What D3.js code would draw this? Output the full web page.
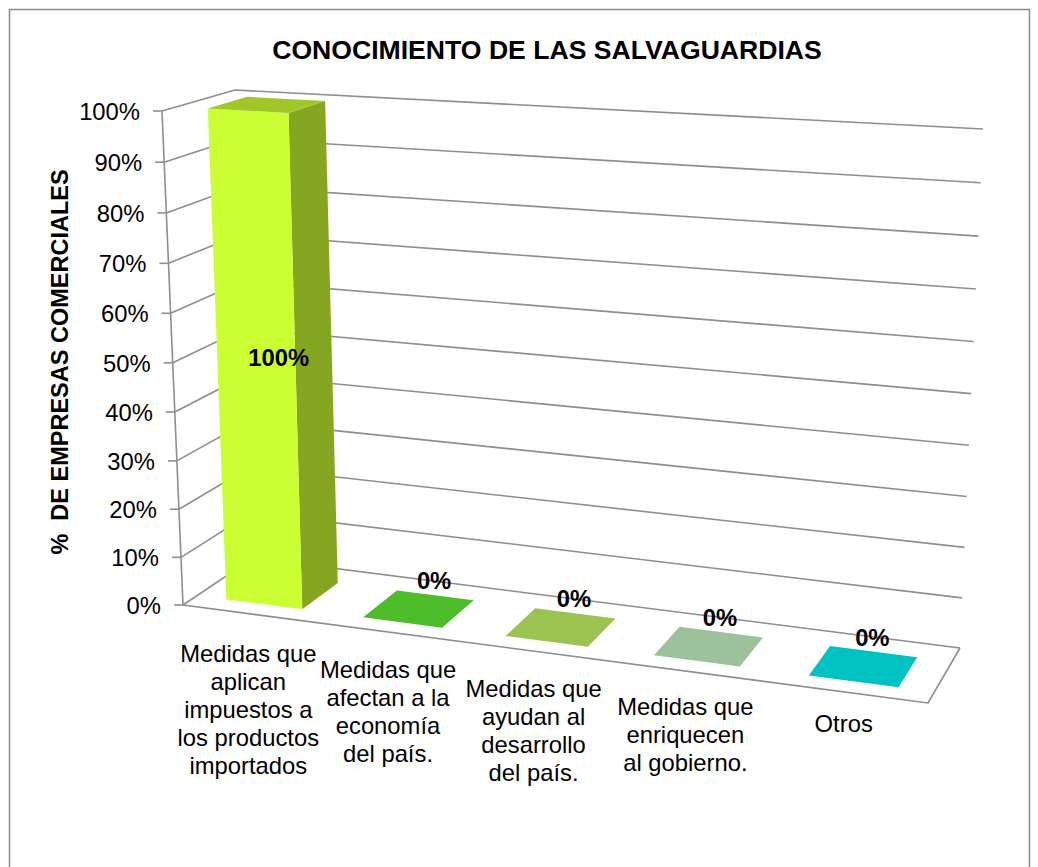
<!DOCTYPE html>
<html><head><meta charset="utf-8">
<script src="https://cdn.jsdelivr.net/npm/d3@7"></script>
<style>
body{margin:0;background:#fff}
svg{display:block}
text{font-family:"Liberation Sans",Arial,Helvetica,sans-serif;fill:#000}
</style>
</head><body>
<svg id="c" width="1038" height="867"></svg>
<script>
// ---- data ----
const chartTitle = "CONOCIMIENTO DE LAS SALVAGUARDIAS";
const yAxisTitle = "%  DE EMPRESAS COMERCIALES";
const categories = [
  "Medidas que\naplican\nimpuestos a\nlos productos\nimportados",
  "Medidas que\nafectan a la\neconomía\ndel país.",
  "Medidas que\nayudan al\ndesarrollo\ndel país.",
  "Medidas que\nenriquecen\nal gobierno.",
  "Otros"
];
const values = [1.00, 0.00, 0.00, 0.00, 0.00];
const valueLabels = ["100%", "0%", "0%", "0%", "0%"];
const yTickValues = [0, 0.1, 0.2, 0.3, 0.4, 0.5, 0.6, 0.7, 0.8, 0.9, 1.0];
const yTickLabels = ["0%", "10%", "20%", "30%", "40%", "50%", "60%", "70%", "80%", "90%", "100%"];
const barColors = ["#CCFF33", "#4DBE2A", "#9CC251", "#9DC29B", "#00C2C2"];

// ---- 3D box projection (corners of the plot cube on screen) ----
const C = {
  flb: [183, 605], flt: [162, 111], frb: [928, 703], frt: [955, 155],
  blb: [253, 558], blt: [235, 90],  brb: [960, 648], brt: [983, 129]
};
const warp = (t, k) => t / (t + k * (1 - t));
const lerp = (p, q, t) => [p[0] + (q[0] - p[0]) * t, p[1] + (q[1] - p[1]) * t];
function proj(u, v, w) {
  const a = warp(u, 1.11), b = warp(v, 1.04);
  const fb = lerp(C.flb, C.frb, a), ft = lerp(C.flt, C.frt, a);
  const bb = lerp(C.blb, C.brb, a), bt = lerp(C.blt, C.brt, a);
  return lerp(lerp(fb, ft, b), lerp(bb, bt, b), w);
}

const x = d3.scaleBand().domain(categories).range([0, 1]).paddingInner(0.44).paddingOuter(0.22);
const y = d3.scaleLinear().domain([0, 1]).range([0, 1]);
const W0 = 0.2, W1 = 0.75;

const svg = d3.select("#c");
const line = d3.line();
const gridColor = "#8E8E8E";
const fs = "23.8px";

// chart border
svg.append("rect").attr("x", 9.5).attr("y", 9.5).attr("width", 1020).attr("height", 880)
  .attr("fill", "none").attr("stroke", "#8A8A8A").attr("stroke-width", 1.5);

// title
svg.append("text").attr("x", 547).attr("y", 59).attr("text-anchor", "middle")
  .style("font-size", "26.6px").style("font-weight", "bold").text(chartTitle);

// y axis title
svg.append("text").attr("transform", "translate(68,362) rotate(-90)").attr("text-anchor", "middle")
  .style("font-size", "23.5px").style("font-weight", "bold").style("white-space", "pre").text(yAxisTitle);

const g = svg.append("g");

// walls gridlines
yTickValues.forEach(t => {
  const v = y(t);
  g.append("path").attr("d", line([proj(0, v, 0), proj(0, v, 1), proj(1, v, 1)]))
    .attr("fill", "none").attr("stroke", gridColor).attr("stroke-width", 1.6);
});
// floor outline
g.append("path").attr("d", line([proj(0, 0, 0), proj(1, 0, 0), proj(1, 0, 1)]))
  .attr("fill", "none").attr("stroke", gridColor).attr("stroke-width", 1.6);
// vertical axis line
g.append("path").attr("d", line([proj(0, 0, 0), proj(0, 1, 0)]))
  .attr("fill", "none").attr("stroke", gridColor).attr("stroke-width", 1.6);

// ticks + labels
yTickValues.forEach((t, i) => {
  const p = proj(0, y(t), 0);
  g.append("line").attr("x1", p[0] - 9).attr("x2", p[0]).attr("y1", p[1]).attr("y2", p[1])
    .attr("stroke", gridColor).attr("stroke-width", 1.6);
  g.append("text").attr("x", p[0] - 22).attr("y", p[1] + 9).attr("text-anchor", "end")
    .style("font-size", fs).text(yTickLabels[i]);
});

// bars
categories.forEach((cat, i) => {
  const u0 = x(cat), u1 = x(cat) + x.bandwidth(), h = y(values[i]);
  const col = d3.color(barColors[i]);
  const bar = g.append("g");
  if (h > 0) {
    bar.append("path").attr("d", line([proj(u1, 0, W0), proj(u1, 0, W1), proj(u1, h, W1), proj(u1, h, W0)]) + "Z")
      .attr("fill", col.darker(1.2).formatHex());
    bar.append("path").attr("d", line([proj(u0, 0, W0), proj(u1, 0, W0), proj(u1, h, W0), proj(u0, h, W0)]) + "Z")
      .attr("fill", col.formatHex());
    bar.append("path").attr("d", line([proj(u0, h, W0), proj(u1, h, W0), proj(u1, h, W1), proj(u0, h, W1)]) + "Z")
      .attr("fill", col.darker(0.7).formatHex());
  } else {
    bar.append("path").attr("d", line([proj(u0, 0, W0), proj(u1, 0, W0), proj(u1, 0, W1), proj(u0, 0, W1)]) + "Z")
      .attr("fill", col.formatHex());
  }
});

// value labels
categories.forEach((cat, i) => {
  const uc = x(cat) + x.bandwidth() / 2, h = y(values[i]);
  let p;
  if (h > 0) { p = proj(uc, h / 2, (W0 + W1) / 2); p = [p[0] + 4, p[1] + 13]; }
  else { p = proj(uc, 0, W1); p = [p[0] - 1, p[1] - 6]; }
  g.append("text").attr("x", p[0]).attr("y", p[1]).attr("text-anchor", "middle")
    .style("font-size", fs).style("font-weight", "bold").text(valueLabels[i]);
});

// category labels
categories.forEach((cat, i) => {
  const uc = x(cat) + x.bandwidth() / 2;
  const p = proj(uc, 0, 0);
  const lines = cat.split("\n");
  const t = g.append("text").attr("text-anchor", "middle").style("font-size", fs);
  lines.forEach((ln, j) => {
    t.append("tspan").attr("x", p[0] - 2.5).attr("y", p[1] + 40 + 2 * (lines.length - 1) + j * 28).text(ln);
  });
});
</script>
</body></html>
